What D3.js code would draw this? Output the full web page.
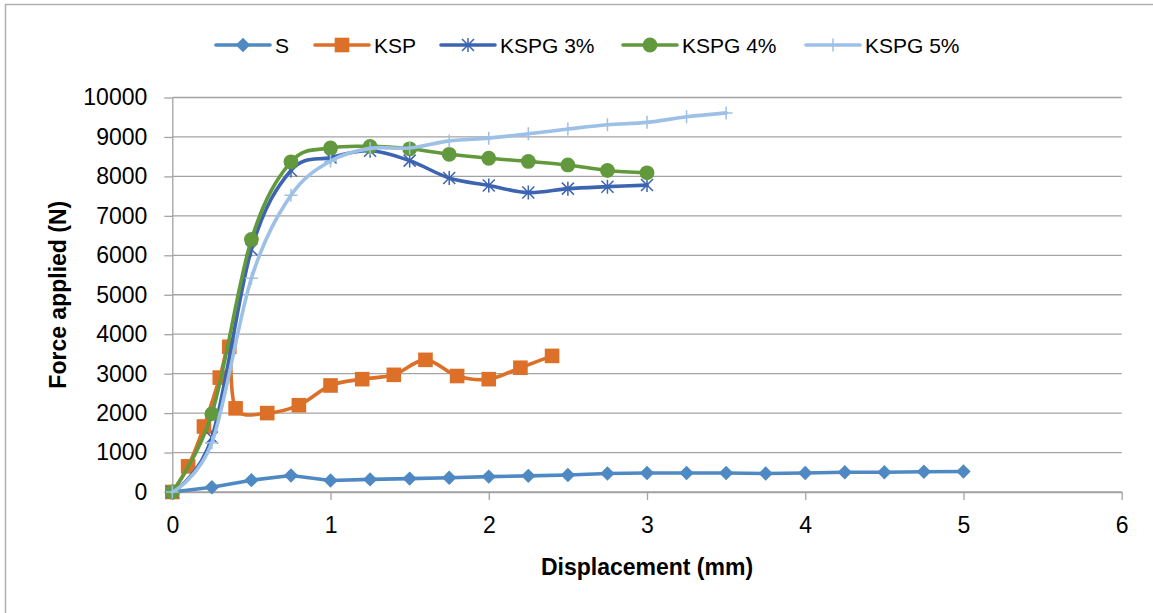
<!DOCTYPE html>
<html><head><meta charset="utf-8">
<script src="https://cdn.jsdelivr.net/npm/d3@7"></script>
<style>
body{margin:0;background:#fff}
svg{display:block;font-family:'Liberation Sans',Arial,sans-serif}
</style>
</head><body><svg id="c" width="1153" height="613"></svg>
<script>
// ---- data ----
const xTicks = [0, 1, 2, 3, 4, 5, 6];
const yTicks = [0, 1000, 2000, 3000, 4000, 5000, 6000, 7000, 8000, 9000, 10000];
const seriesNames = ["S", "KSP", "KSPG 3%", "KSPG 4%", "KSPG 5%"];
const seriesColors = ["#4f89c4", "#dd7028", "#3c64b1", "#62993c", "#9dc0e6"];
const seriesMarkers = ["diamond", "square", "asterisk", "circle", "plus"];

const sX = [0, 0.25, 0.5, 0.75, 1, 1.25, 1.5, 1.75, 2, 2.25, 2.5, 2.75, 3, 3.25, 3.5, 3.75, 4, 4.25, 4.5, 4.75, 5];
const sY = [0, 120, 300, 420, 290, 320, 340, 360, 390, 410, 430, 470, 480, 480, 480, 470, 480, 500, 500, 515, 520];

const kspX = [0, 0.1, 0.2, 0.3, 0.36, 0.4, 0.6, 0.8, 1.0, 1.2, 1.4, 1.6, 1.8, 2.0, 2.2, 2.4];
const kspY = [0, 650, 1660, 2900, 3680, 2120, 2000, 2200, 2700, 2860, 2970, 3350, 2940, 2860, 3150, 3450];

const k3X = [0, 0.25, 0.5, 0.75, 1, 1.25, 1.5, 1.75, 2, 2.25, 2.5, 2.75, 3];
const k3Y = [0, 1380, 6150, 8150, 8480, 8650, 8400, 7960, 7770, 7590, 7690, 7740, 7780];

const k4X = [0, 0.25, 0.5, 0.75, 1, 1.25, 1.5, 1.75, 2, 2.25, 2.5, 2.75, 3];
const k4Y = [0, 1980, 6400, 8370, 8720, 8760, 8700, 8560, 8460, 8380, 8290, 8150, 8090];

const k5X = [0, 0.25, 0.5, 0.75, 1, 1.25, 1.5, 1.75, 2, 2.25, 2.5, 2.75, 3, 3.25, 3.5];
const k5Y = [0, 1250, 5420, 7520, 8390, 8710, 8720, 8900, 8970, 9080, 9200, 9310, 9370, 9510, 9610];

const xTitle = "Displacement (mm)";
const yTitle = "Force applied (N)";

const seriesX = [sX, kspX, k3X, k4X, k5X];
const seriesY = [sY, kspY, k3Y, k4Y, k5Y];
const seriesSmooth = [false, true, true, true, true];

// ---- layout ----
const W = 1153, H = 613;
const plot = {left: 172.3, right: 1121.7, top: 97.5, bottom: 492};
const gridColor = "#a3a3a3";

const svg = d3.select("#c");
const x = d3.scaleLinear().domain([0, 6]).range([plot.left, plot.right]);
const y = d3.scaleLinear().domain([0, 10000]).range([plot.bottom, plot.top]);

// outer frame
svg.append("rect").attr("x", 5.5).attr("y", 4.5).attr("width", W + 20).attr("height", H + 20)
  .attr("fill", "#fff").attr("stroke", "#b0b0b0").attr("stroke-width", 1.5);

// gridlines
svg.append("g").selectAll("line").data(yTicks).join("line")
  .attr("x1", plot.left).attr("x2", plot.right)
  .attr("y1", d => y(d)).attr("y2", d => y(d))
  .attr("stroke", gridColor).attr("stroke-width", 1.3);

// axes
const yAxis = svg.append("g").attr("transform", `translate(${plot.left},0)`)
  .call(d3.axisLeft(y).tickValues(yTicks).tickSize(8).tickSizeOuter(0).tickPadding(17).tickFormat(d3.format("d")));
const xAxis = svg.append("g").attr("transform", `translate(0,${plot.bottom})`)
  .call(d3.axisBottom(x).tickValues(xTicks).tickSize(8).tickSizeOuter(0).tickPadding(17).tickFormat(d3.format("d")));
[yAxis, xAxis].forEach(a => {
  a.select(".domain").attr("stroke", gridColor).attr("stroke-width", 1.3);
  a.selectAll(".tick line").attr("stroke", gridColor).attr("stroke-width", 1.3);
  a.selectAll(".tick text").attr("fill", "#000").style("font-size", "23px")
   .style("font-family", "'Liberation Sans',Arial,sans-serif");
});

// axis titles
svg.append("text").attr("x", (plot.left + plot.right) / 2).attr("y", 575)
  .attr("text-anchor", "middle").style("font-size", "23px").style("font-weight", "bold").text(xTitle);
svg.append("text").attr("transform", `translate(66,${(plot.top + plot.bottom) / 2}) rotate(-90)`)
  .attr("text-anchor", "middle").style("font-size", "23px").style("font-weight", "bold").text(yTitle);

// marker drawing
function drawMarker(g, type, color) {
  if (type === "diamond") {
    g.append("path").attr("d", "M0,-7.2L7.2,0L0,7.2L-7.2,0Z").attr("fill", color);
  } else if (type === "square") {
    g.append("rect").attr("x", -7.3).attr("y", -7.3).attr("width", 14.6).attr("height", 14.6).attr("fill", color);
  } else if (type === "circle") {
    g.append("circle").attr("r", 7.4).attr("fill", color);
  } else if (type === "asterisk") {
    g.append("path").attr("d", "M0,-7L0,7M-6,-6L6,6M-6,6L6,-6")
      .attr("stroke", color).attr("stroke-width", 1.5).attr("fill", "none");
  } else if (type === "plus") {
    g.append("path").attr("d", "M-6.5,0L6.5,0M0,-6.5L0,6.5")
      .attr("stroke", color).attr("stroke-width", 1.5).attr("fill", "none");
  }
}

// series
seriesNames.forEach((name, i) => {
  const pts = seriesX[i].map((xv, j) => [xv, seriesY[i][j]]);
  const line = d3.line().x(d => x(d[0])).y(d => y(d[1]))
    .curve(seriesSmooth[i] ? d3.curveCardinal.tension(0) : d3.curveLinear);
  const g = svg.append("g");
  g.append("path").datum(pts).attr("d", line).attr("fill", "none")
    .attr("stroke", seriesColors[i]).attr("stroke-width", 3.6)
    .attr("stroke-linejoin", "round").attr("stroke-linecap", "round");
  pts.forEach(p => {
    const mg = g.append("g").attr("transform", `translate(${x(p[0])},${y(p[1])})`);
    drawMarker(mg, seriesMarkers[i], seriesColors[i]);
  });
});

// legend
const legendStart = [216, 315, 441, 623, 806];
const legendY = 45;
seriesNames.forEach((name, i) => {
  const g = svg.append("g").attr("transform", `translate(${legendStart[i]},${legendY})`);
  g.append("line").attr("x1", 0).attr("x2", 54).attr("y1", 0).attr("y2", 0)
    .attr("stroke", seriesColors[i]).attr("stroke-width", 3.6).attr("stroke-linecap", "round");
  const mg = g.append("g").attr("transform", "translate(27,0)");
  drawMarker(mg, seriesMarkers[i], seriesColors[i]);
  g.append("text").attr("x", 59).attr("y", 0).attr("dy", "0.36em")
    .style("font-size", "21px").attr("fill", "#000").text(name);
});
</script>
</body></html>
